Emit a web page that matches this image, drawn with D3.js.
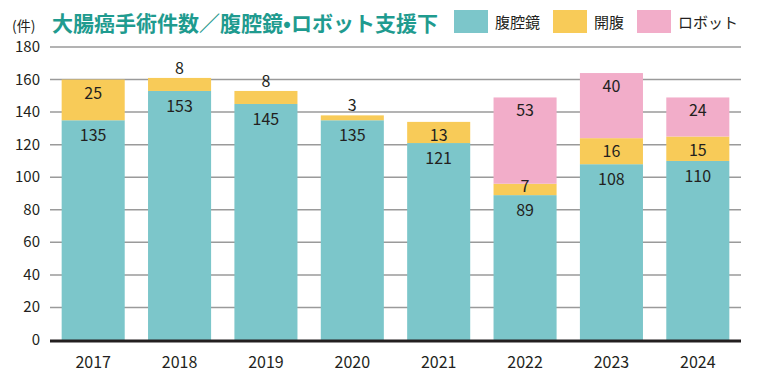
<!DOCTYPE html>
<html>
<head>
<meta charset="utf-8">
<script src="https://cdn.jsdelivr.net/npm/d3@7"></script>
<style>
	body { margin: 0; background: #fff; }
	svg text { font-family: "Noto Sans CJK JP", "Noto Sans", sans-serif; fill: #231f20; }
</style>
</head>
<body>
<div id="chart"></div>
<script>
var years = ['2017', '2018', '2019', '2020', '2021', '2022', '2023', '2024'];
var laparoscopy = [135, 153, 145, 135, 121, 89, 108, 110];
var openSurgery = [25, 8, 8, 3, 13, 7, 16, 15];
var robot = [0, 0, 0, 0, 0, 53, 40, 24];
var seriesNames = ['腹腔鏡', '開腹', 'ロボット'];
var yTicks = [0, 20, 40, 60, 80, 100, 120, 140, 160, 180];

var chartSettings = {
	width: 763,
	height: 378,
	left: 50,
	right: 741,
	top: 47,
	bottom: 340,
	colors: ['#7cc6ca', '#f8cb58', '#f2adc9']
};

var svg = d3.select('#chart')
	.append('svg')
	.attr('width', chartSettings.width)
	.attr('height', chartSettings.height);

var x = d3.scaleBand()
	.domain(years)
	.range([chartSettings.left, chartSettings.right])
	.paddingInner(0.27)
	.paddingOuter(0.135);

var y = d3.scaleLinear()
	.domain([0, 180])
	.range([chartSettings.bottom, chartSettings.top]);

// gridlines
svg.append('g')
	.selectAll('line')
	.data(yTicks.slice(1))
	.enter()
	.append('line')
	.attr('x1', chartSettings.left)
	.attr('x2', chartSettings.right)
	.attr('y1', function(d) { return y(d); })
	.attr('y2', function(d) { return y(d); })
	.attr('stroke', '#9a9a9a')
	.attr('stroke-width', 1.5);

// y axis labels
svg.append('g')
	.selectAll('text')
	.data(yTicks)
	.enter()
	.append('text')
	.attr('x', 40)
	.attr('y', function(d) { return y(d) + 5; })
	.attr('text-anchor', 'end')
	.attr('font-size', 15)
	.text(function(d) { return d; });

// stacked bars
var rows = years.map(function(yr, i) {
	return { year: yr, s0: laparoscopy[i], s1: openSurgery[i], s2: robot[i] };
});
var stack = d3.stack().keys(['s0', 's1', 's2'])(rows);

stack.forEach(function(layer, k) {
	svg.append('g')
		.selectAll('rect')
		.data(layer)
		.enter()
		.append('rect')
		.attr('x', function(d) { return x(d.data.year); })
		.attr('width', x.bandwidth())
		.attr('y', function(d) { return y(d[1]); })
		.attr('height', function(d) { return y(d[0]) - y(d[1]); })
		.attr('fill', chartSettings.colors[k]);
});

// value labels
stack.forEach(function(layer, k) {
	layer.forEach(function(d, i) {
		var v = d[1] - d[0];
		if (!v) return;
		var isTop = (k === 2) || (k === 1 && !robot[i]);
		var yPos;
		if (v >= 10) {
			yPos = y(d[1]) + (k === 0 ? 21 : 19);
		} else if (isTop) {
			yPos = y(d[1]) - 4;
		} else {
			yPos = (y(d[1]) + y(d[0])) / 2 + 3;
		}
		svg.append('text')
			.attr('x', x(d.data.year) + x.bandwidth() / 2)
			.attr('y', yPos)
			.attr('text-anchor', 'middle')
			.attr('font-size', 16)
			.text(v);
	});
});

// baseline
svg.append('line')
	.attr('x1', chartSettings.left)
	.attr('x2', chartSettings.right)
	.attr('y1', y(0) + 1)
	.attr('y2', y(0) + 1)
	.attr('stroke', '#231f20')
	.attr('stroke-width', 3);

// x axis labels
svg.append('g')
	.selectAll('text')
	.data(years)
	.enter()
	.append('text')
	.attr('x', function(d) { return x(d) + x.bandwidth() / 2; })
	.attr('y', 368)
	.attr('text-anchor', 'middle')
	.attr('font-size', 16)
	.text(function(d) { return d; });

// title
svg.append('text')
	.attr('x', 12)
	.attr('y', 31)
	.attr('font-size', 14)
	.text('(件)');

svg.append('text')
	.attr('x', 52)
	.attr('y', 31)
	.attr('font-size', 21)
	.attr('font-weight', 'bold')
	.style('fill', '#1f9b8f')
	.text('大腸癌手術件数／腹腔鏡•ロボット支援下');

// legend
var legendX = [454, 553, 637];
var legend = svg.append('g')
	.selectAll('g')
	.data(seriesNames)
	.enter()
	.append('g')
	.attr('transform', function(d, i) { return 'translate(' + legendX[i] + ',10)'; });

legend.append('rect')
	.attr('width', 34)
	.attr('height', 23)
	.attr('fill', function(d, i) { return chartSettings.colors[i]; });

legend.append('text')
	.attr('x', 41)
	.attr('y', 18)
	.attr('font-size', 15)
	.text(function(d) { return d; });
</script>
</body>
</html>
